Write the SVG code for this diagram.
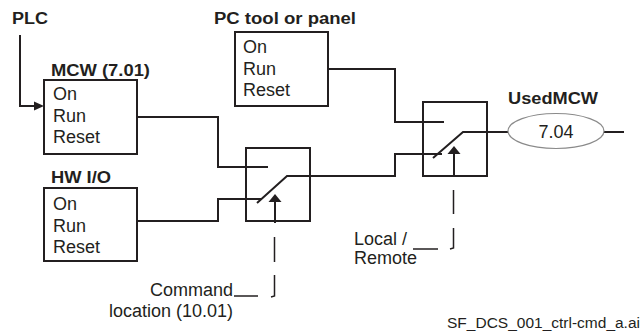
<svg xmlns="http://www.w3.org/2000/svg" width="644" height="335" viewBox="0 0 644 335">
<defs>
<style>
.bt{font-family:"Liberation Sans",Arial,sans-serif;font-weight:bold;font-size:16px;fill:#231f20}
.rt{font-family:"Liberation Sans",Arial,sans-serif;font-size:18px;fill:#231f20}
.ft{font-family:"Liberation Sans",Arial,sans-serif;font-size:15.5px;fill:#231f20}
.box{fill:#fff;stroke:#231f20;stroke-width:2}
.ln{fill:none;stroke:#231f20;stroke-width:2}
.th{fill:none;stroke:#231f20;stroke-width:1.5}
.ah{fill:#231f20}
</style>
</defs>
<rect width="644" height="335" fill="#fff"/>
<g id="connectors">
<path class="ln" d="M20,35 V106 H36"/>
<polygon class="ah" points="44,106 34,101.5 34,110.5"/>
<path class="ln" d="M137,117 H218 V167 H268"/>
<path class="ln" d="M137,221 H218 V199 H262"/>
<path class="ln" d="M257,203 L287,176 H395 V154 H442"/>
<path class="ln" d="M328,69 H395 V122 H444"/>
<path class="ln" d="M433,158 L463,132 H508"/>
<path class="ln" d="M604,132 H624"/>
<path class="ln" d="M275,200 V223"/>
<polygon class="ah" points="275,194 268.5,202 281.5,202"/>
<path class="th" d="M274.5,237 V262 M274.5,275 V296 L271,297"/>
<path class="th" d="M234,296 H258"/>
<path class="ln" d="M454,152 V176"/>
<polygon class="ah" points="454,146 447.5,154 460.5,154"/>
<path class="th" d="M453.5,190 V214 M453.5,228 V248 L450,249"/>
<path class="th" d="M413,249 H438"/>
</g>
<g id="plc"><text class="bt" x="12" y="24" textLength="36" lengthAdjust="spacingAndGlyphs">PLC</text></g>
<g id="mcw">
<text class="bt" x="51" y="76" textLength="99" lengthAdjust="spacingAndGlyphs">MCW (7.01)</text>
<rect class="box" x="44" y="80" width="93" height="74"/>
<text class="rt" x="53" y="100">On</text>
<text class="rt" x="53" y="122">Run</text>
<text class="rt" x="53" y="143">Reset</text>
</g>
<g id="hwio">
<text class="bt" x="51" y="183" textLength="60" lengthAdjust="spacingAndGlyphs">HW I/O</text>
<rect class="box" x="44" y="188" width="93" height="73"/>
<text class="rt" x="53" y="210">On</text>
<text class="rt" x="53" y="231.5">Run</text>
<text class="rt" x="53" y="253">Reset</text>
</g>
<g id="pctool">
<text class="bt" x="214" y="24" textLength="142" lengthAdjust="spacingAndGlyphs">PC tool or panel</text>
<rect class="box" x="235" y="32" width="93" height="74"/>
<text class="rt" x="243" y="53">On</text>
<text class="rt" x="243" y="75">Run</text>
<text class="rt" x="243" y="96">Reset</text>
</g>
<g id="switch1">
<rect class="ln" x="246" y="148" width="64" height="73"/>
</g>
<g id="switch2">
<rect class="ln" x="423" y="102" width="64" height="74"/>
</g>
<g id="usedmcw">
<text class="bt" x="508" y="104" textLength="90" lengthAdjust="spacingAndGlyphs">UsedMCW</text>
<ellipse cx="556" cy="131" rx="48" ry="17.5" fill="#fff" stroke="#8a8a8a" stroke-width="1.2"/>
<text class="rt" x="556" y="138" text-anchor="middle">7.04</text>
</g>
<g id="cmdloc">
<text class="rt" x="233" y="296" text-anchor="end">Command</text>
<text class="rt" x="233" y="317" text-anchor="end">location (10.01)</text>
</g>
<g id="localremote">
<text class="rt" x="354" y="245">Local /</text>
<text class="rt" x="354" y="264">Remote</text>
</g>
<text class="ft" x="640" y="328" text-anchor="end">SF_DCS_001_ctrl-cmd_a.ai</text>
</svg>
